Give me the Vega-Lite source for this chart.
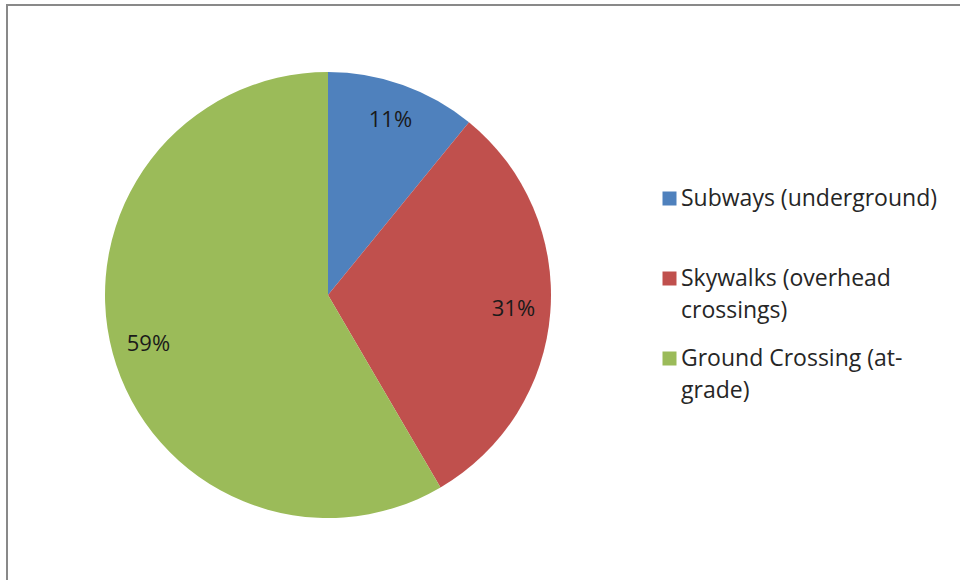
{
  "$schema": "https://vega.github.io/schema/vega-lite/v6.json",
  "width": 956,
  "height": 578,
  "autosize": "none",
  "padding": {"left": 7, "top": 5, "right": -3, "bottom": -3},
  "background": "white",
  "view": {"stroke": "#898989", "strokeWidth": 2, "fill": "white"},
  "data": {
    "values": [
      {"category": "Subways (underground)", "share": 11, "label": "11%", "order": 1},
      {"category": "Skywalks (overhead crossings)", "share": 31, "label": "31%", "order": 2},
      {"category": "Ground Crossing (at-grade)", "share": 59, "label": "59%", "order": 3}
    ]
  },
  "encoding": {
    "theta": {"field": "share", "type": "quantitative", "stack": true},
    "order": {"field": "order", "type": "quantitative"}
  },
  "layer": [
    {
      "mark": {"type": "arc", "outerRadius": 223, "x": 321, "y": 290},
      "encoding": {
        "color": {
          "field": "category",
          "type": "nominal",
          "scale": {
            "domain": ["Subways (underground)", "Skywalks (overhead crossings)", "Ground Crossing (at-grade)"],
            "range": ["#4F81BD", "#C0504D", "#9BBB59"]
          },
          "legend": {
            "orient": "none",
            "legendX": 651,
            "legendY": 182,
            "title": null,
            "padding": 0,
            "symbolType": "square",
            "symbolSize": 196,
            "symbolStrokeWidth": 0,
            "labelFont": "Open Sans",
            "labelFontSize": 23,
            "labelColor": "#262626",
            "labelLimit": 500,
            "labelOffset": 0,
            "rowPadding": 24,
            "labelExpr": "datum.label == 'Subways (underground)' ? ['Subways (underground)', ''] : datum.label == 'Skywalks (overhead crossings)' ? ['Skywalks (overhead', 'crossings)'] : ['Ground Crossing (at-', 'grade)']",
            "encode": {"labels": {"update": {"lineHeight": {"value": 32}}}}
          }
        }
      }
    },
    {
      "mark": {"type": "text", "radius": 186, "x": 321, "y": 290, "font": "Open Sans", "fontSize": 22, "color": "#1a1a1a"},
      "encoding": {"text": {"field": "label", "type": "nominal"}}
    }
  ]
}
